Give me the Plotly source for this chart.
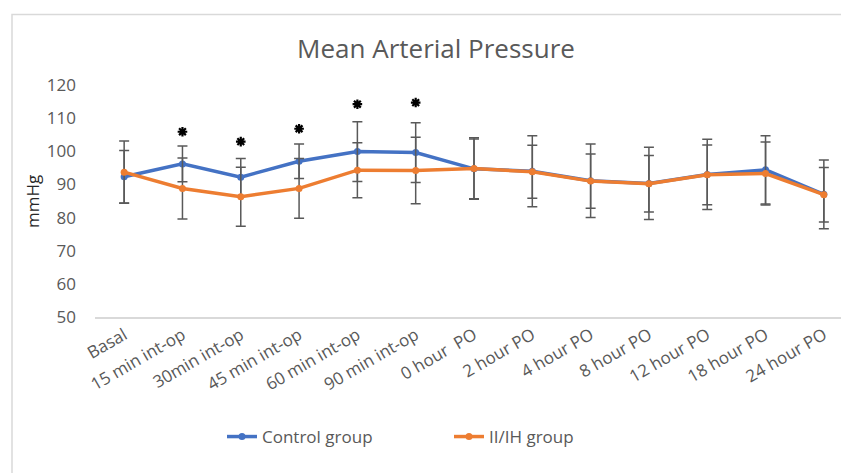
import plotly.graph_objects as go

categories = ["Basal", "15 min int-op", "30min int-op", "45 min int-op", "60 min int-op",
              "90 min int-op", "0 hour  PO", "2 hour PO", "4 hour PO", "8 hour PO",
              "12 hour PO", "18 hour PO", "24 hour PO"]
control_mean = [92.3, 96.2, 92.2, 97.0, 99.9, 99.6, 94.7, 94.0, 91.1, 90.3, 93.0, 94.4, 87.0]
control_sd = [7.9, 5.4, 5.6, 5.2, 9.0, 9.0, 9.0, 10.7, 11.1, 10.9, 10.6, 10.3, 10.4]
iih_mean = [93.7, 88.8, 86.3, 88.8, 94.3, 94.2, 94.8, 93.8, 91.0, 90.2, 92.9, 93.3, 86.9]
iih_sd = [9.4, 9.2, 8.9, 9.0, 8.3, 10.0, 9.3, 8.0, 8.2, 8.5, 9.0, 9.5, 8.2]
sig_categories = ["15 min int-op", "30min int-op", "45 min int-op", "60 min int-op", "90 min int-op"]
sig_y = [105.9, 102.9, 106.8, 114.2, 114.7]
y_ticks = [50, 60, 70, 80, 90, 100, 110, 120]

BLUE = "#4472C4"
ORANGE = "#ED7D31"
GREY = "#595959"
FONT = "Open Sans"

fig = go.Figure()
for name, mean, sd, color in [("Control group", control_mean, control_sd, BLUE),
                              ("II/IH group", iih_mean, iih_sd, ORANGE)]:
    fig.add_trace(go.Scatter(
        x=categories, y=mean, name=name, mode="lines+markers",
        line=dict(color=color, width=3.5),
        marker=dict(color=color, size=7),
        error_y=dict(type="data", array=sd, visible=True, color=GREY, thickness=1.5, width=5),
    ))

fig.add_trace(go.Scatter(
    x=sig_categories, y=sig_y, mode="markers", showlegend=False, hoverinfo="skip",
    marker=dict(symbol="asterisk-open", size=8, color="black",
                line=dict(width=2.2, color="black")),
))

# page body has an 8px offset, so figure coordinates = screen coordinates - 8
W, H = 849, 473
L, R, T, B = 87, 4, 77, 164
pw = W - L - R
ph = H - T - B

fig.add_shape(type="rect", xref="paper", yref="paper",
              x0=(4 - L) / pw, x1=1.3, y0=-1.0, y1=(H - B - 6.5) / ph,
              line=dict(color="#D9D9D9", width=1.5), layer="below")

fig.add_annotation(text="mmHg", xref="paper", yref="paper", x=(24 - L) / pw, y=0.5,
                   xanchor="center", yanchor="middle",
                   textangle=-90, showarrow=False, font=dict(family=FONT, size=17, color="#262626"))

fig.update_layout(
    width=W, height=H,
    margin=dict(l=L, r=R, t=T, b=B, autoexpand=False),
    paper_bgcolor="white", plot_bgcolor="white",
    font=dict(family=FONT, color=GREY),
    title=dict(text="Mean Arterial Pressure", x=428 / W, xanchor="center",
               y=1 - 41 / H, yanchor="middle", yref="container",
               font=dict(family=FONT, size=26, color=GREY)),
    xaxis=dict(type="category", range=[-0.5, 12.5], automargin=False,
               showline=True, linecolor="#D9D9D9", linewidth=1.5,
               showgrid=False, zeroline=False, ticks="", tickangle=-30,
               tickfont=dict(family=FONT, size=17, color=GREY)),
    yaxis=dict(range=[50, 120], tickvals=y_ticks, showgrid=False, zeroline=False,
               automargin=False, showline=False, ticks="", ticklabelstandoff=18,
               tickfont=dict(family=FONT, size=17, color=GREY)),
    legend=dict(orientation="h", x=(214 - L) / pw, xanchor="left",
                y=(H - B - 429) / ph, yanchor="middle",
                font=dict(family=FONT, size=17, color=GREY),
                entrywidth=182, entrywidthmode="pixels", bgcolor="rgba(0,0,0,0)"),
    showlegend=True,
)

fig.write_html("out.html")
